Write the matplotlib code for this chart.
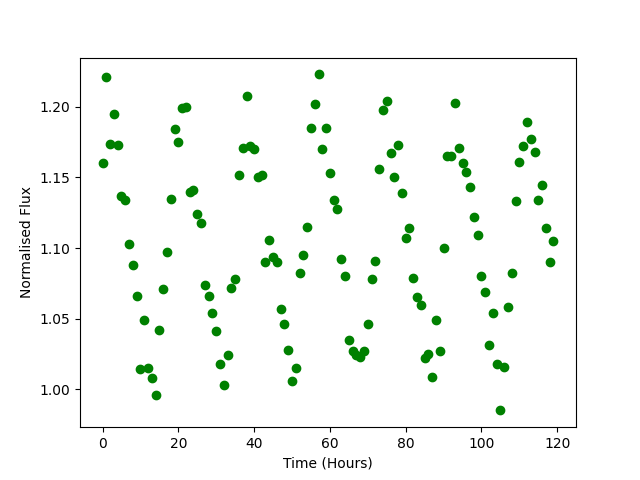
import matplotlib
matplotlib.use("Agg")
import matplotlib.pyplot as plt
import numpy as np

# Zeitachse in Stunden (stündliche Messungen)
time_hours = np.arange(0, 120)

# Normalisierter Fluss
flux = [
    1.160, 1.221, 1.174, 1.195, 1.173, 1.137, 1.134, 1.103, 1.088, 1.066,
    1.014, 1.049, 1.015, 1.008, 0.996, 1.042, 1.071, 1.097, 1.135, 1.184,
    1.175, 1.199, 1.200, 1.140, 1.141, 1.124, 1.118, 1.074, 1.066, 1.054,
    1.041, 1.018, 1.003, 1.024, 1.072, 1.078, 1.152, 1.171, 1.208, 1.172,
    1.170, 1.150, 1.152, 1.090, 1.106, 1.094, 1.090, 1.057, 1.046, 1.028,
    1.006, 1.015, 1.082, 1.095, 1.115, 1.185, 1.202, 1.223, 1.170, 1.185,
    1.153, 1.134, 1.128, 1.092, 1.080, 1.035, 1.027, 1.024, 1.023, 1.027,
    1.046, 1.078, 1.091, 1.156, 1.198, 1.204, 1.167, 1.150, 1.173, 1.139,
    1.107, 1.114, 1.079, 1.065, 1.060, 1.022, 1.025, 1.009, 1.049, 1.027,
    1.100, 1.165, 1.165, 1.203, 1.171, 1.160, 1.154, 1.143, 1.122, 1.109,
    1.080, 1.069, 1.031, 1.054, 1.018, 0.985, 1.016, 1.058, 1.082, 1.133,
    1.161, 1.172, 1.189, 1.177, 1.168, 1.134, 1.145, 1.114, 1.090, 1.105,
]

fig, ax = plt.subplots(figsize=(6.4, 4.8), dpi=100)
ax.plot(time_hours, flux, "o", color="green")
ax.set_xlabel("Time (Hours)")
ax.set_ylabel("Normalised Flux")

fig.savefig("out.png")
